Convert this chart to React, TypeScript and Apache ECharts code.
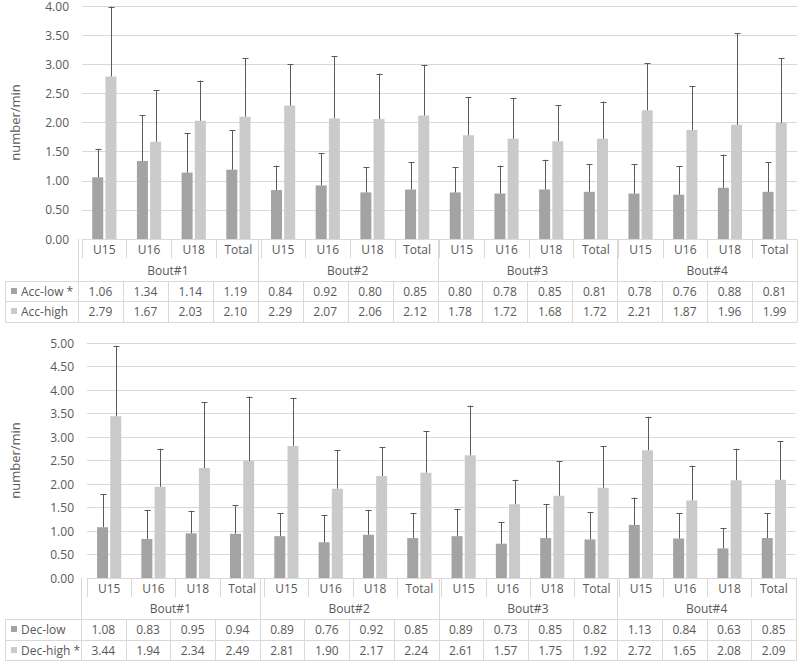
import React, { useEffect, useRef } from "react";
import * as echarts from "echarts";

const categories = ["U15", "U16", "U18", "Total", "U15", "U16", "U18", "Total", "U15", "U16", "U18", "Total", "U15", "U16", "U18", "Total"];
const bouts = ["Bout#1", "Bout#2", "Bout#3", "Bout#4"];

const accLow = [1.06, 1.34, 1.14, 1.19, 0.84, 0.92, 0.8, 0.85, 0.8, 0.78, 0.85, 0.81, 0.78, 0.76, 0.88, 0.81];
const accHigh = [2.79, 1.67, 2.03, 2.1, 2.29, 2.07, 2.06, 2.12, 1.78, 1.72, 1.68, 1.72, 2.21, 1.87, 1.96, 1.99];
const accLowErrTop = [1.55, 2.13, 1.82, 1.87, 1.26, 1.47, 1.23, 1.32, 1.23, 1.26, 1.36, 1.28, 1.28, 1.25, 1.45, 1.32];
const accHighErrTop = [3.99, 2.55, 2.72, 3.1, 3.0, 3.14, 2.84, 2.99, 2.43, 2.42, 2.3, 2.36, 3.02, 2.62, 3.53, 3.11];

const decLow = [1.08, 0.83, 0.95, 0.94, 0.89, 0.76, 0.92, 0.85, 0.89, 0.73, 0.85, 0.82, 1.13, 0.84, 0.63, 0.85];
const decHigh = [3.44, 1.94, 2.34, 2.49, 2.81, 1.9, 2.17, 2.24, 2.61, 1.57, 1.75, 1.92, 2.72, 1.65, 2.08, 2.09];
const decLowErrTop = [1.78, 1.45, 1.43, 1.55, 1.38, 1.33, 1.45, 1.38, 1.47, 1.19, 1.57, 1.4, 1.71, 1.38, 1.06, 1.38];
const decHighErrTop = [4.94, 2.75, 3.74, 3.86, 3.83, 2.72, 2.79, 3.13, 3.67, 2.09, 2.49, 2.8, 3.43, 2.39, 2.75, 2.91];

const seriesNames = [["Acc-low *", "Acc-high"], ["Dec-low", "Dec-high *"]];

const DARK = "#a3a3a3";
const LIGHT = "#cacaca";
const ERR = "#5a5a5a";
const GRIDC = "#d9d9d9";
const TEXTC = "#595959";
const FONT = "Open Sans";
const BAR_W = 11;
const BAR_GAP = 0.2;

type Panel = {
  left: number; right: number; top: number; height: number;
  max: number;
  catY: number; boutY: number; r1Y: number; r2Y: number;
  h1: number; h2: number; h3: number;
  low: number[]; high: number[]; names: string[];
};

const panels: Panel[] = [
  { left: 78, right: 797, top: 4, height: 235, max: 4, catY: 249, boutY: 270, r1Y: 291, r2Y: 311, h1: 281, h2: 301, h3: 322, low: accLow, high: accHigh, names: seriesNames[0] },
  { left: 81, right: 796, top: 343, height: 235, max: 5, catY: 588, boutY: 608, r1Y: 629, r2Y: 650, h1: 619, h2: 640, h3: 660, low: decLow, high: decHigh, names: seriesNames[1] },
];

function line(x1: number, y1: number, x2: number, y2: number) {
  return { type: "line", silent: true, z: 50, shape: { x1, y1, x2, y2 }, style: { stroke: GRIDC, lineWidth: 1 } };
}
function text(t: string, x: number, y: number, align = "center") {
  return {
    type: "text", silent: true, z: 51, x, y,
    style: { text: t, fill: TEXTC, font: `12px "${FONT}"`, textAlign: align, textVerticalAlign: "middle", align, verticalAlign: "middle" },
  };
}

function buildTable(p: Panel) {
  const els: any[] = [];
  const n = categories.length;
  const cw = (p.right - p.left) / n;
  const bottom = p.top + p.height;
  // horizontal lines
  [p.h1, p.h2, p.h3].forEach((y) => els.push(line(5, y + 0.5, p.right, y + 0.5)));
  // legend cell left border
  els.push(line(5.5, p.h1, 5.5, p.h3 + 0.5));
  // bout boundaries (full height)
  for (let b = 0; b <= bouts.length; b++) {
    const x = Math.round(p.left + b * 4 * cw) + 0.5;
    els.push(line(x, bottom, x, p.h3 + 0.5));
  }
  // category boundaries in value rows
  for (let i = 1; i < n; i++) {
    if (i % 4 === 0) continue;
    const x = Math.round(p.left + i * cw) + 0.5;
    els.push(line(x, p.h1, x, p.h3 + 0.5));
  }
  // bout labels
  bouts.forEach((b, i) => els.push(text(b, p.left + (i * 4 + 2) * cw, p.boutY)));
  // values
  for (let i = 0; i < n; i++) {
    const cx = p.left + (i + 0.5) * cw;
    els.push(text(p.low[i].toFixed(2), cx, p.r1Y));
    els.push(text(p.high[i].toFixed(2), cx, p.r2Y));
  }
  // legend
  els.push({ type: "rect", silent: true, z: 51, shape: { x: 11, y: p.r1Y - 3, width: 6, height: 6 }, style: { fill: DARK } });
  els.push({ type: "rect", silent: true, z: 51, shape: { x: 11, y: p.r2Y - 3, width: 6, height: 6 }, style: { fill: LIGHT } });
  els.push(text(p.names[0], 21, p.r1Y, "left"));
  els.push(text(p.names[1], 21, p.r2Y, "left"));
  return els;
}

function errSeries(name: string, gridIdx: number, means: number[], tops: number[], side: number) {
  return {
    type: "custom",
    name,
    xAxisIndex: gridIdx,
    yAxisIndex: gridIdx,
    z: 10,
    data: means.map((m, i) => [i, tops[i], m]),
    renderItem: (params: any, api: any) => {
      const base = api.coord([api.value(0), api.value(2)]);
      const top = api.coord([api.value(0), api.value(1)]);
      const off = side * (BAR_W * (1 + BAR_GAP)) / 2;
      const x = Math.round(base[0] + off) + 0.5;
      const s = { stroke: ERR, lineWidth: 1 };
      return {
        type: "group",
        children: [
          { type: "line", shape: { x1: x, y1: base[1], x2: x, y2: top[1] }, style: s },
          { type: "line", shape: { x1: x - 3, y1: Math.round(top[1]) + 0.5, x2: x + 3, y2: Math.round(top[1]) + 0.5 }, style: s },
        ],
      };
    },
  };
}

export default function App() {
  const ref = useRef<HTMLDivElement>(null);
  useEffect(() => {
    document.body.style.margin = "0";
    const chart = echarts.init(ref.current!, undefined, { renderer: "svg" });
    const option: any = {
      animation: false,
      backgroundColor: "#ffffff",
      textStyle: { fontFamily: FONT },
      grid: panels.map((p) => ({ left: p.left, top: p.top, width: p.right - p.left, height: p.height, containLabel: false })),
      xAxis: panels.map((p, gi) => ({
        type: "category",
        gridIndex: gi,
        data: categories,
        axisLine: { show: true, lineStyle: { color: GRIDC } },
        axisTick: { show: true, length: 19, interval: 0, lineStyle: { color: GRIDC } },
        axisLabel: { interval: 0, color: TEXTC, fontSize: 12, fontFamily: FONT, margin: 4 },
      })),
      yAxis: panels.map((p, gi) => ({
        type: "value",
        gridIndex: gi,
        min: 0,
        max: p.max,
        interval: 0.5,
        name: "number/min",
        nameLocation: "middle",
        nameGap: gi === 0 ? 61 : 66,
        nameTextStyle: { color: TEXTC, fontSize: 13, fontFamily: FONT },
        axisLine: { show: false },
        axisTick: { show: false },
        axisLabel: { color: TEXTC, fontSize: 12, fontFamily: FONT, margin: 13, formatter: (v: number) => v.toFixed(2) },
        splitLine: { lineStyle: { color: GRIDC } },
      })),
      series: [
        ...panels.flatMap((p, gi) => [
          { type: "bar", name: p.names[0], xAxisIndex: gi, yAxisIndex: gi, data: p.low, barWidth: BAR_W, barGap: `${BAR_GAP * 100}%`, itemStyle: { color: DARK } },
          { type: "bar", name: p.names[1], xAxisIndex: gi, yAxisIndex: gi, data: p.high, barWidth: BAR_W, barGap: `${BAR_GAP * 100}%`, itemStyle: { color: LIGHT } },
        ]),
        errSeries("accLowErr", 0, accLow, accLowErrTop, -1),
        errSeries("accHighErr", 0, accHigh, accHighErrTop, 1),
        errSeries("decLowErr", 1, decLow, decLowErrTop, -1),
        errSeries("decHighErr", 1, decHigh, decHighErrTop, 1),
      ],
      graphic: { elements: panels.flatMap((p) => buildTable(p)) },
    };
    chart.setOption(option);
    return () => chart.dispose();
  }, []);
  return <div ref={ref} style={{ position: "absolute", left: 0, top: 0, width: 800, height: 667 }} />;
}
